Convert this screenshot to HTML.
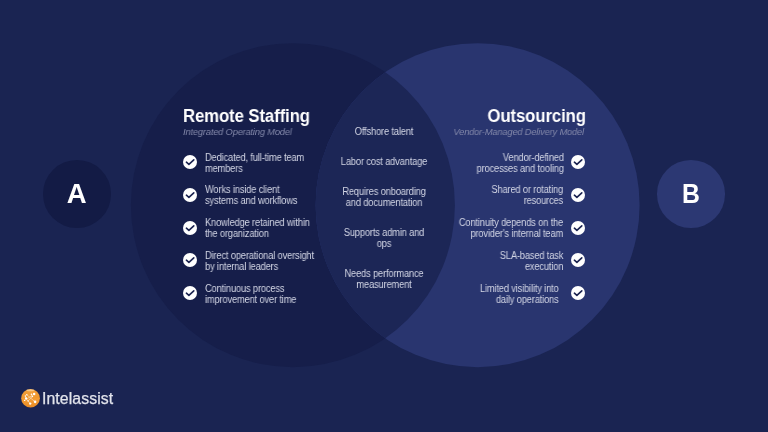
<!DOCTYPE html>
<html><head><meta charset="utf-8">
<style>
html,body{margin:0;padding:0;}
body{-webkit-font-smoothing:antialiased;width:768px;height:432px;overflow:hidden;background:#1a2452;position:relative;font-family:"Liberation Sans",sans-serif;}
svg.bg{position:absolute;left:0;top:0;}
.abs{position:absolute;}
.abs,.item,.mid,.letter{will-change:transform;}
.title{font-size:18px;font-weight:bold;color:#fff;letter-spacing:-0.1px;line-height:20px;white-space:nowrap;transform:scaleX(0.93);}
.sub{font-size:9.7px;font-style:italic;color:#8489aa;letter-spacing:-0.18px;line-height:11px;white-space:nowrap;transform:scaleX(0.96);}
.item{position:absolute;font-size:10px;color:#d3d6e5;letter-spacing:-0.165px;line-height:10.8px;white-space:nowrap;transform:scaleX(0.93);}
.chk{position:absolute;width:14px;height:14px;}
.mid{position:absolute;left:324px;width:120px;text-align:center;font-size:10px;color:#d3d6e5;letter-spacing:-0.165px;line-height:10.6px;white-space:nowrap;transform:scaleX(0.93);transform-origin:50% 0;}
.letter{position:absolute;width:67.5px;height:67.5px;border-radius:50%;color:#fff;font-size:27.5px;font-weight:bold;text-align:center;line-height:67px;}
</style></head>
<body>
<svg class="bg" width="768" height="432" viewBox="0 0 768 432">
  <defs><clipPath id="cl"><circle cx="292.9" cy="205.2" r="162"/></clipPath></defs>
  <circle cx="292.9" cy="205.2" r="162" fill="#161e4a"/>
  <circle cx="477.6" cy="205.2" r="162" fill="#29356f"/>
  <circle cx="477.6" cy="205.2" r="162" fill="#1c2656" clip-path="url(#cl)"/>
</svg>

<div class="letter" style="left:43.3px;top:159.7px;background:#131b45;">A</div>
<div class="letter" style="left:657.2px;top:159.7px;background:#2c3873;"><span style="display:inline-block;transform:scaleX(0.9)">B</span></div>

<div class="abs title" style="left:183px;top:105.5px;transform-origin:0 0">Remote Staffing</div>
<div class="abs sub" style="left:183px;top:126px;transform-origin:0 0">Integrated Operating Model</div>
<div class="abs title" style="right:182.5px;top:105.5px;transform-origin:100% 0">Outsourcing</div>
<div class="abs sub" style="right:184px;top:126px;transform-origin:100% 0">Vendor-Managed Delivery Model</div>

<svg class="chk" style="left:182.9px;top:155.20px" viewBox="0 0 14 14"><circle cx="7" cy="7" r="7" fill="#fff"/><polyline points="3.4,7.2 5.9,9.4 10.8,4.8" fill="none" stroke="#1b2350" stroke-width="1.6" stroke-linecap="round" stroke-linejoin="round"/></svg>
<div class="item" style="left:204.9px;top:152.70px;transform-origin:0 0">Dedicated, full-time team<br>members</div>
<svg class="chk" style="left:182.9px;top:187.90px" viewBox="0 0 14 14"><circle cx="7" cy="7" r="7" fill="#fff"/><polyline points="3.4,7.2 5.9,9.4 10.8,4.8" fill="none" stroke="#1b2350" stroke-width="1.6" stroke-linecap="round" stroke-linejoin="round"/></svg>
<div class="item" style="left:204.9px;top:185.40px;transform-origin:0 0">Works inside client<br>systems and workflows</div>
<svg class="chk" style="left:182.9px;top:220.60px" viewBox="0 0 14 14"><circle cx="7" cy="7" r="7" fill="#fff"/><polyline points="3.4,7.2 5.9,9.4 10.8,4.8" fill="none" stroke="#1b2350" stroke-width="1.6" stroke-linecap="round" stroke-linejoin="round"/></svg>
<div class="item" style="left:204.9px;top:218.10px;transform-origin:0 0">Knowledge retained within<br>the organization</div>
<svg class="chk" style="left:182.9px;top:253.30px" viewBox="0 0 14 14"><circle cx="7" cy="7" r="7" fill="#fff"/><polyline points="3.4,7.2 5.9,9.4 10.8,4.8" fill="none" stroke="#1b2350" stroke-width="1.6" stroke-linecap="round" stroke-linejoin="round"/></svg>
<div class="item" style="left:204.9px;top:250.80px;transform-origin:0 0">Direct operational oversight<br>by internal leaders</div>
<svg class="chk" style="left:182.9px;top:286.00px" viewBox="0 0 14 14"><circle cx="7" cy="7" r="7" fill="#fff"/><polyline points="3.4,7.2 5.9,9.4 10.8,4.8" fill="none" stroke="#1b2350" stroke-width="1.6" stroke-linecap="round" stroke-linejoin="round"/></svg>
<div class="item" style="left:204.9px;top:283.50px;transform-origin:0 0">Continuous process<br>improvement over time</div>
<svg class="chk" style="left:571.4px;top:155.20px" viewBox="0 0 14 14"><circle cx="7" cy="7" r="7" fill="#fff"/><polyline points="3.4,7.2 5.9,9.4 10.8,4.8" fill="none" stroke="#1b2350" stroke-width="1.6" stroke-linecap="round" stroke-linejoin="round"/></svg>
<div class="item" style="right:204.5px;top:152.70px;text-align:right;transform-origin:100% 0">Vendor-defined<br>processes and tooling</div>
<svg class="chk" style="left:571.4px;top:187.90px" viewBox="0 0 14 14"><circle cx="7" cy="7" r="7" fill="#fff"/><polyline points="3.4,7.2 5.9,9.4 10.8,4.8" fill="none" stroke="#1b2350" stroke-width="1.6" stroke-linecap="round" stroke-linejoin="round"/></svg>
<div class="item" style="right:204.5px;top:185.40px;text-align:right;transform-origin:100% 0">Shared or rotating<br>resources</div>
<svg class="chk" style="left:571.4px;top:220.60px" viewBox="0 0 14 14"><circle cx="7" cy="7" r="7" fill="#fff"/><polyline points="3.4,7.2 5.9,9.4 10.8,4.8" fill="none" stroke="#1b2350" stroke-width="1.6" stroke-linecap="round" stroke-linejoin="round"/></svg>
<div class="item" style="right:204.5px;top:218.10px;text-align:right;transform-origin:100% 0">Continuity depends on the<br>provider&#39;s internal team</div>
<svg class="chk" style="left:571.4px;top:253.30px" viewBox="0 0 14 14"><circle cx="7" cy="7" r="7" fill="#fff"/><polyline points="3.4,7.2 5.9,9.4 10.8,4.8" fill="none" stroke="#1b2350" stroke-width="1.6" stroke-linecap="round" stroke-linejoin="round"/></svg>
<div class="item" style="right:204.5px;top:250.80px;text-align:right;transform-origin:100% 0">SLA-based task<br>execution</div>
<svg class="chk" style="left:571.4px;top:286.00px" viewBox="0 0 14 14"><circle cx="7" cy="7" r="7" fill="#fff"/><polyline points="3.4,7.2 5.9,9.4 10.8,4.8" fill="none" stroke="#1b2350" stroke-width="1.6" stroke-linecap="round" stroke-linejoin="round"/></svg>
<div class="item" style="right:209.0px;top:283.50px;text-align:right;transform-origin:100% 0">Limited visibility into<br>daily operations</div>
<div class="mid" style="top:126.80px">Offshore talent</div>
<div class="mid" style="top:157.00px">Labor cost advantage</div>
<div class="mid" style="top:186.80px">Requires onboarding<br>and documentation</div>
<div class="mid" style="top:227.80px">Supports admin and<br>ops</div>
<div class="mid" style="top:268.90px">Needs performance<br>measurement</div>

<svg class="abs" style="left:20px;top:388px" width="21" height="21" viewBox="0 0 21 21">
  <defs>
    <linearGradient id="og" x1="0" y1="0" x2="0" y2="1"><stop offset="0" stop-color="#f2a03c"/><stop offset="0.45" stop-color="#f0992f"/><stop offset="0.55" stop-color="#f39d36"/><stop offset="1" stop-color="#e98b24"/></linearGradient>
  </defs>
  <circle cx="10.55" cy="10.25" r="9.35" fill="url(#og)"/>
  <ellipse cx="10.3" cy="2.3" rx="3.8" ry="1" fill="#fde2b8" opacity="0.6"/>
  <g stroke="#fff" stroke-width="0.6" opacity="0.75" fill="none">
    <path d="M6.8 6.8 L15.1 13.85"/>
    <path d="M14.1 6.1 L4.6 12.4"/>
    <path d="M6.1 10.45 L8 12.9 L10.2 15.6"/>
    <path d="M8 12.9 L12.4 8.5"/>
    <path d="M11.4 6.3 L12.4 8.5"/>
    <path d="M5.35 8 L6.1 10.45"/>
  </g>
  <g fill="#fff">
    <circle cx="14.1" cy="6.1" r="1.25"/>
    <circle cx="11.4" cy="6.3" r="0.8"/>
    <circle cx="6.8" cy="6.8" r="0.75"/>
    <circle cx="5.35" cy="8" r="0.7"/>
    <circle cx="12.4" cy="8.5" r="0.8"/>
    <circle cx="6.1" cy="10.45" r="1.1"/>
    <circle cx="4.6" cy="12.4" r="0.7"/>
    <circle cx="8" cy="12.9" r="0.7"/>
    <circle cx="15.1" cy="13.85" r="1.3"/>
    <circle cx="10.2" cy="15.6" r="1.2"/>
  </g>
</svg>
<div class="abs" style="left:42.3px;top:389.2px;font-size:15.8px;color:#e2e4ec;letter-spacing:0.1px;-webkit-text-stroke:0.25px #e2e4ec;line-height:20px;">Intelassist</div>
</body></html>
